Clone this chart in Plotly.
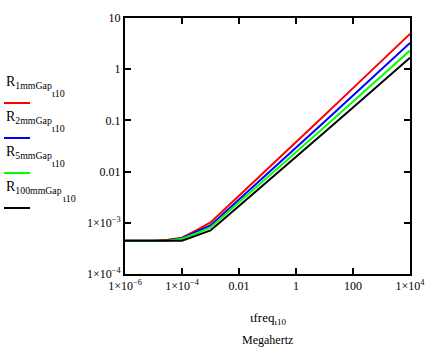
import plotly.graph_objects as go

# frequency (MHz)
freq = [1e-6, 1e-5, 3.16e-5, 1e-4, 3.16e-4, 1e-3, 1e-2, 1e-1, 1, 10, 100, 1000, 1e4]

R_1mm = [4.47e-4, 4.47e-4, 4.68e-4, 5.13e-4, 7.08e-4, 1.02e-3, 3.39e-3, 0.0112, 0.0372, 0.126, 0.427, 1.445, 4.90]
R_2mm = [4.47e-4, 4.47e-4, 4.50e-4, 5.00e-4, 6.60e-4, 8.90e-4, 2.84e-3, 9.06e-3, 0.0288, 0.0942, 0.307, 1.00, 3.27]
R_5mm = [4.47e-4, 4.47e-4, 4.47e-4, 4.90e-4, 6.17e-4, 8.13e-4, 2.50e-3, 7.67e-3, 0.0236, 0.0741, 0.233, 0.733, 2.31]
R_100mm = [4.47e-4, 4.47e-4, 4.47e-4, 4.47e-4, 5.62e-4, 7.08e-4, 2.12e-3, 6.35e-3, 0.0191, 0.0585, 0.179, 0.55, 1.68]

series = [("1mmGap", R_1mm, "#ff0000"), ("2mmGap", R_2mm, "#0000ff"),
          ("5mmGap", R_5mm, "#00ff00"), ("100mmGap", R_100mm, "#000000")]

x_tickvals = [1e-6, 1e-4, 1e-2, 1, 100, 1e4]
x_ticktext = ["1×10<sup>−6</sup>", "1×10<sup>−4</sup>", "0.01", "1", "100", "1×10<sup>4</sup>"]
y_tickvals = [1e-4, 1e-3, 1e-2, 0.1, 1, 10]
y_ticktext = ["1×10<sup>−4</sup>", "1×10<sup>−3</sup>", "0.01", "0.1", "1", "10"]

FONT = "Liberation Serif"
fig = go.Figure()
for name, vals, col in series:
    fig.add_trace(go.Scatter(x=freq, y=vals, mode="lines", line=dict(color=col, width=2),
                             showlegend=False))

W, H = 444, 348
L, R, T, B = 125, 34, 18, 74
pw, ph = W - L - R, H - T - B

def px(x):
    return (x - L) / pw

def py(y):
    return (H - B - y) / ph

ann = []
shapes = []
sub_x = [50, 50, 50, 61]
for i, (name, vals, col) in enumerate(series):
    yc = 82 + 35 * i
    ann.append(dict(x=px(4), y=py(yc), xref="paper", yref="paper", xanchor="left", yanchor="middle",
                    showarrow=False, text="R<sub>%s</sub>" % name,
                    font=dict(family=FONT, size=14, color="black")))
    ann.append(dict(x=px(sub_x[i]), y=py(yc + 11), xref="paper", yref="paper", xanchor="left",
                    yanchor="middle", showarrow=False, text="ι10",
                    font=dict(family=FONT, size=10, color="black")))
    ly = 103 + 35 * i
    shapes.append(dict(type="line", xref="paper", yref="paper", x0=px(4), x1=px(30),
                       y0=py(ly), y1=py(ly), line=dict(color=col, width=2)))

ann.append(dict(x=0.5, y=py(318), xref="paper", yref="paper", xanchor="center", yanchor="middle",
                showarrow=False, text="ιfreq<sub>ι10</sub>", font=dict(family=FONT, size=13, color="black")))
ann.append(dict(x=0.5, y=py(340), xref="paper", yref="paper", xanchor="center", yanchor="middle",
                showarrow=False, text="Megahertz", font=dict(family=FONT, size=12, color="black")))

axis_common = dict(showgrid=False, zeroline=False, showline=True, linecolor="black", linewidth=2,
                   ticks="inside", ticklen=6, tickwidth=1.5, tickcolor="black", mirror="ticks",
                   tickfont=dict(family=FONT, size=12, color="black"))
fig.update_xaxes(type="log", range=[-6, 4], tickvals=x_tickvals, ticktext=x_ticktext, **axis_common)
fig.update_yaxes(type="log", range=[-4, 1], tickvals=y_tickvals, ticktext=y_ticktext, **axis_common)

fig.update_layout(width=W, height=H, margin=dict(l=L, r=R, t=T, b=B),
                  paper_bgcolor="white", plot_bgcolor="white",
                  annotations=ann, shapes=shapes, font=dict(family=FONT))
fig.write_html("out.html")
